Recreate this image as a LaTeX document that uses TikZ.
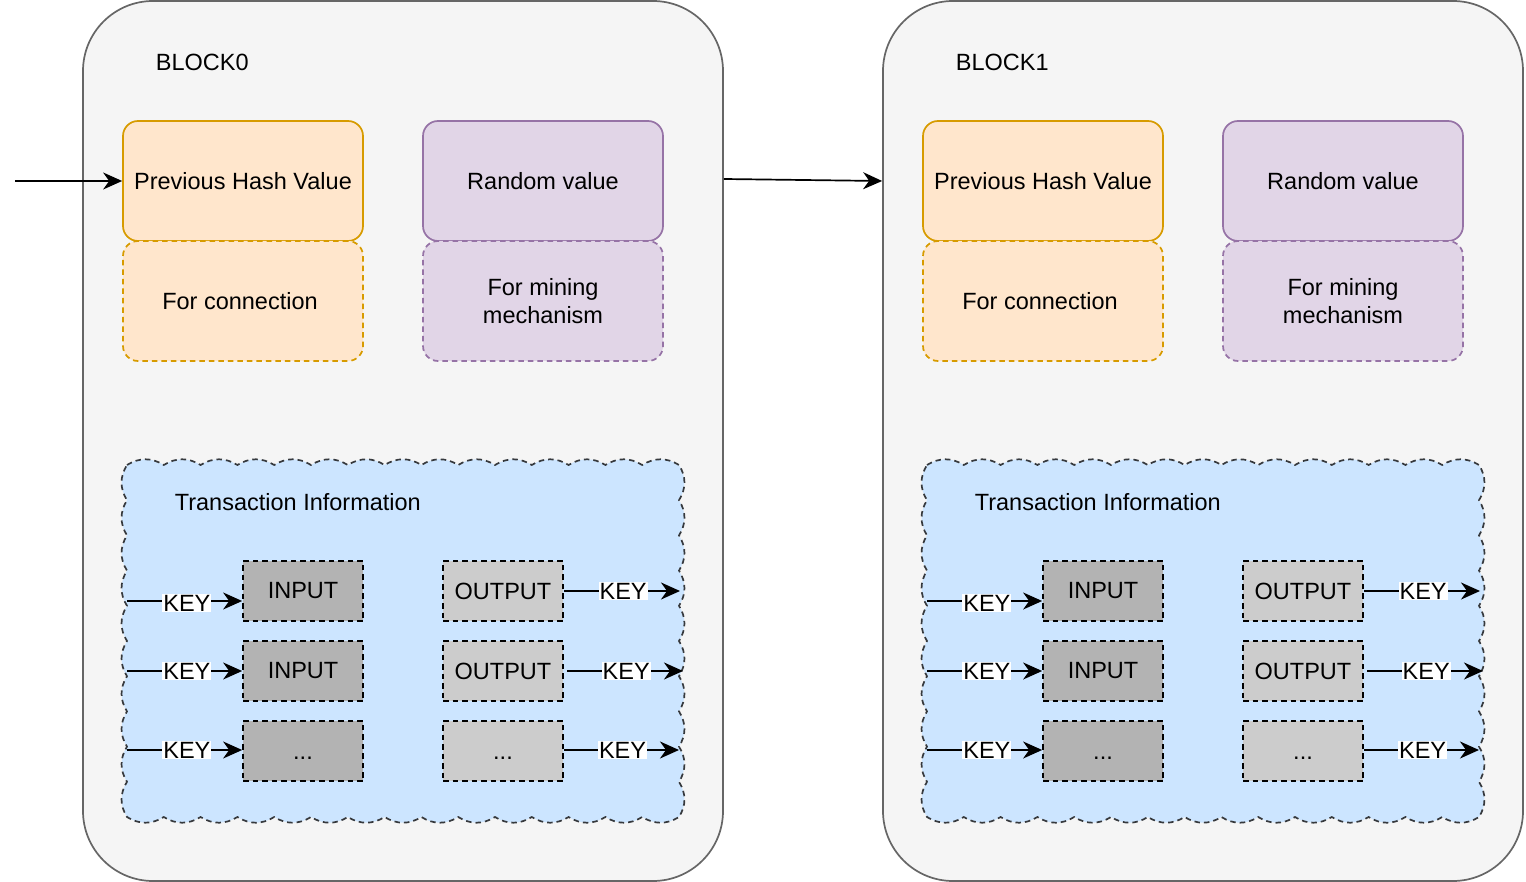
\documentclass[tikz,border=0pt]{standalone}
\usepackage{fontspec}
\setmainfont{Liberation Sans}
\usetikzlibrary{arrows.meta,calc}
\definecolor{blockfill}{HTML}{F5F5F5}
\definecolor{blockline}{HTML}{666666}
\definecolor{orfill}{HTML}{FFE6CC}
\definecolor{orline}{HTML}{D79B00}
\definecolor{pufill}{HTML}{E1D5E7}
\definecolor{puline}{HTML}{9673A6}
\definecolor{txfill}{HTML}{CCE5FF}
\definecolor{txline}{HTML}{36393D}
\definecolor{infill}{HTML}{B3B3B3}
\definecolor{outfill}{HTML}{CCCCCC}
\begin{document}
\begin{tikzpicture}[x=1pt,y=-1pt,
  font=\fontsize{23.5}{28}\selectfont,
  line width=1.7pt,
  blockbox/.style={draw=blockline, fill=blockfill, rounded corners=70pt, minimum width=640pt, minimum height=880pt, inner sep=0pt},
  hashbox/.style={draw=orline, fill=orfill, rounded corners=15pt, minimum width=240pt, minimum height=120pt, inner sep=0pt, align=center},
  randbox/.style={draw=puline, fill=pufill, rounded corners=15pt, minimum width=240pt, minimum height=120pt, inner sep=0pt, align=center},
  dashpat/.style={dash pattern=on 5.5pt off 4pt},
  txbox/.style={minimum width=560pt, minimum height=360pt, inner sep=0pt},
  cloudline/.style={fill=txfill, draw=txline, dashpat},
  inbox/.style={draw=black, fill=infill, dashpat, minimum width=120pt, minimum height=60pt, inner sep=0pt},
  outbox/.style={draw=black, fill=outfill, dashpat, minimum width=120pt, minimum height=60pt, inner sep=0pt},
  conn/.style={draw=black, -{Stealth[length=19pt,width=17pt,inset=6pt]}},
  keylbl/.style={fill=white, inner sep=1pt, text=black},
  plaintext/.style={inner sep=0pt, anchor=west},
  bmp/.style={bend left=32}
]
\useasboundingbox (0,0) rectangle (1526,882);
\foreach \b/\dx in {0/0,1/800} {
\begin{scope}[xshift=\dx pt]
  \node[blockbox] (block\b) at (403,441) {};
  \node[plaintext] (title\b) at (155,62) {BLOCK\b};
  \node[hashbox] (hash\b) at (243,181) {Previous Hash Value};
  \node[hashbox, dashpat] (conn\b) at (243,301) {For connection\hspace*{6pt}};
  \node[randbox] (rand\b) at (543,181) {Random value};
  \node[randbox, dashpat] (mine\b) at (543,301) {For mining\\mechanism};
  \node[txbox] (tx\b) at (403,641) {};
  \path[cloudline] (127,465)
    \foreach \k in {1,...,15} { to[bmp] ({127+552/15*\k},465) }
    \foreach \k in {1,...,10} { to[bmp] (679,{465+35.2*\k}) }
    \foreach \k in {1,...,15} { to[bmp] ({679-552/15*\k},817) }
    \foreach \k in {1,...,10} { to[bmp] (127,{817-35.2*\k}) } -- cycle;
  \node[plaintext] (txt\b) at (174,502) {Transaction Information};
  \node[inbox] (inA\b) at (303,591) {INPUT};
  \node[inbox] (inB\b) at (303,671) {INPUT};
  \node[inbox] (inC\b) at (303,751) {\vphantom{I}...};
  \node[outbox] (outA\b) at (503,591) {OUTPUT};
  \node[outbox] (outB\b) at (503,671) {OUTPUT};
  \node[outbox] (outC\b) at (503,751) {\vphantom{I}...};
  \coordinate (lsA\b) at (127,601);
  \coordinate (lsB\b) at (127,671);
  \coordinate (lsC\b) at (127,750);
  \coordinate (leA\b) at ($(inA\b.west)+(0,10)$);
  \coordinate (leC\b) at ($(inC\b.west)+(0,-1)$);
  \coordinate (reA\b) at (680,591);
  \coordinate (rsB\b) at (567,671);
  \coordinate (reB\b) at (683,671);
  \coordinate (rsC\b) at ($(outC\b.east)+(0,-1)$);
  \coordinate (reC\b) at (679,750);
  \draw[conn] (lsA\b) -- node[keylbl, pos=0.52, yshift=-2pt]{KEY} (leA\b);
  \draw[conn] (lsB\b) -- node[keylbl, pos=0.52]{KEY} (inB\b.west);
  \draw[conn] (lsC\b) -- node[keylbl, pos=0.52]{KEY} (leC\b);
  \draw[conn] (outA\b.east) -- node[keylbl, pos=0.51]{KEY} (reA\b);
  \draw[conn] (rsB\b) -- node[keylbl, pos=0.51]{KEY} (reB\b);
  \draw[conn] (rsC\b) -- node[keylbl, pos=0.51]{KEY} (reC\b);
\end{scope}
}
\coordinate (start) at (15,181);
\draw[conn] (start) -- (hash0.west);
\draw[conn] ([yshift=2pt]block0.east |- hash0.east) -- (block1.west |- hash1.west);
\end{tikzpicture}
\end{document}
